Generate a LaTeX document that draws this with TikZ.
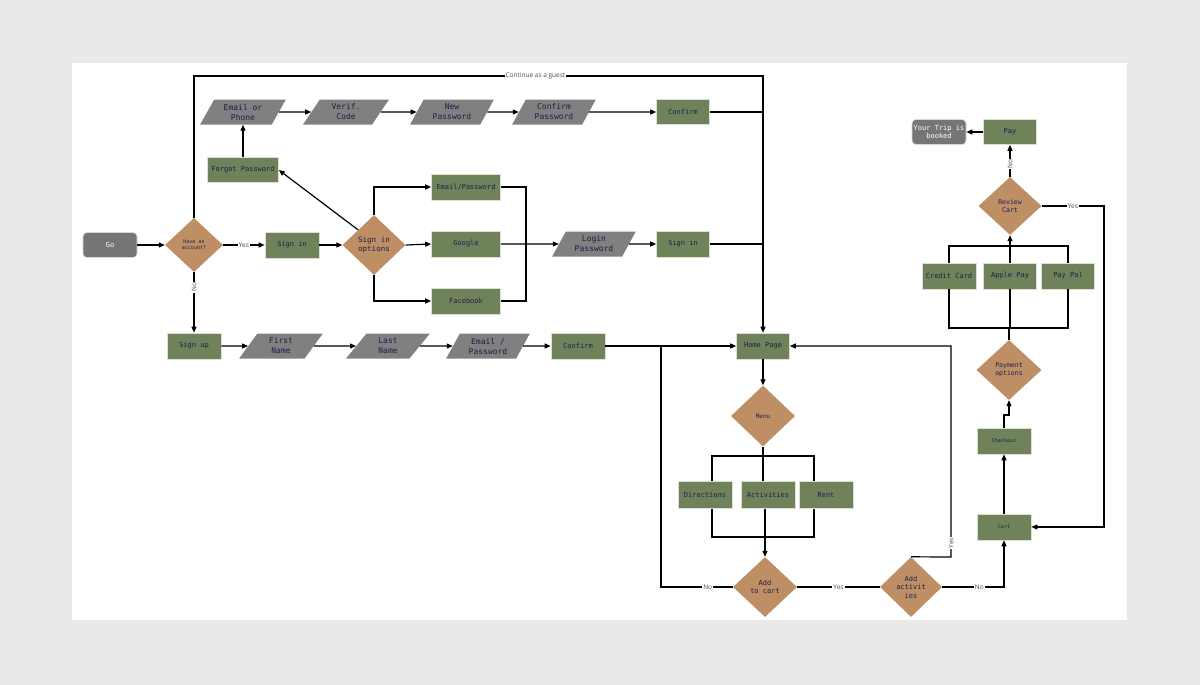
\documentclass[tikz,border=0pt]{standalone}
\usepackage{fontspec}
\setmainfont{DejaVu Sans}
\setmonofont{DejaVu Sans Mono}
\setsansfont{Open Sans}
\usetikzlibrary{shapes.geometric,arrows.meta}
\definecolor{grn}{HTML}{70825A}
\definecolor{dtan}{HTML}{BE8F64}
\definecolor{gry}{HTML}{808080}
\definecolor{termg}{HTML}{767676}
\definecolor{ink}{HTML}{1E1E4E}
\definecolor{bgc}{HTML}{E9E9E9}
\tikzset{
  box/.style={rectangle, fill=grn, draw=white!75!grn, line width=0.6pt,
    minimum width=54pt, minimum height=26pt, inner sep=1pt,
    font=\ttfamily\fontsize{7}{8}\selectfont, text=ink, align=center},
  dec/.style={diamond, fill=dtan, inner sep=0pt, minimum width=62pt, minimum height=60pt,
    font=\ttfamily\fontsize{7}{8.5}\selectfont, text=ink, align=center},
  para/.style={trapezium, trapezium left angle=60, trapezium right angle=120,
    trapezium stretches=true, fill=gry, minimum width=84pt, minimum height=25pt,
    inner sep=0pt, font=\ttfamily\fontsize{8}{10}\selectfont, text=ink, align=center},
  term/.style={rectangle, rounded corners=4pt, fill=termg, draw=white!70!termg, line width=0.6pt,
    minimum width=54pt, minimum height=25pt, inner sep=1pt,
    font=\ttfamily\fontsize{7}{8.5}\selectfont, text=white, align=center},
  arr/.style={-{Triangle[length=6pt,width=5pt]}, line width=1.2pt, black},
  ln/.style={line width=1.2pt, black},
  lbl/.style={fill=white, inner sep=1pt, font=\sffamily\fontsize{6.5}{7}\selectfont, text=black!70},
}
\begin{document}
\begin{tikzpicture}[x=1pt,y=-1pt]
\useasboundingbox (0,0) rectangle (1200,685);
\fill[bgc] (0,0) rectangle (1200,685);
\fill[white] (72,63) rectangle (1127,620);

% nodes
\node[term] (go) at (110,245) {Go};
\node[dec, minimum width=58pt, minimum height=54pt, font=\ttfamily\fontsize{5}{6}\selectfont] (have) at (194,245) {Have an\\account?};
\node[box] (signin1) at (292,245) {Sign in};
\node[dec, minimum width=63pt, minimum height=60pt, font=\ttfamily\fontsize{7.5}{9}\selectfont] (opts) at (374,245) {Sign in\\options};
\node[box, minimum width=69pt] (emailpw) at (466,187) {Email/Password};
\node[box, minimum width=69pt] (google) at (466,244) {Google};
\node[box, minimum width=69pt] (facebook) at (466,301) {Facebook};
\node[para] (login) at (594,244) {Login\\Password};
\node[box, minimum width=53pt] (signin2) at (683,244) {Sign in};
\node[box, minimum width=71pt, minimum height=25pt] (forgot) at (243,170) {Forgot Password};
\node[para, minimum width=86pt] (emph) at (243,112) {Email or\\Phone};
\node[para, minimum width=86pt] (verif) at (346,112) {Verif.\\Code};
\node[para] (newpw) at (452,112) {New\\Password};
\node[para] (confpw) at (554,112) {Confirm\\Password};
\node[box, minimum width=53pt, minimum height=25pt] (confirm1) at (683,112) {Confirm};
\node[box] (signup) at (194,346) {Sign up};
\node[para] (first) at (281,346) {First\\Name};
\node[para] (last) at (388,346) {Last\\Name};
\node[para] (emailpw2) at (488,346) {Email /\\Password};
\node[box] (confirm2) at (578,346) {Confirm};
\node[box, minimum width=53pt] (home) at (763,346) {Home Page};
\node[dec, minimum width=64pt, minimum height=61pt, font=\ttfamily\fontsize{6}{7}\selectfont] (menu) at (763,416) {Menu};
\node[box, minimum height=27pt] (dirs) at (705,495) {Directions};
\node[box, minimum height=27pt] (acts) at (768,495) {Activities};
\node[box, minimum height=27pt] (rent) at (826,495) {Rent};
\node[dec, minimum width=64pt, minimum height=60pt] (addcart) at (765,587) {Add\\to cart};
\node[dec, minimum width=62pt, minimum height=60pt] (addact) at (911,587) {Add\\activit\\ies};
\node[box, font=\ttfamily\fontsize{5}{6}\selectfont] (cart) at (1004,527) {Cart};
\node[box, font=\ttfamily\fontsize{5}{6}\selectfont] (checkout) at (1004,441) {Checkout};
\node[dec, minimum width=65pt, minimum height=60pt, font=\ttfamily\fontsize{6.5}{8}\selectfont] (payopt) at (1009,370) {Payment\\options};
\node[box] (credit) at (949,276) {Credit Card};
\node[box, minimum width=53pt] (apple) at (1010,276) {Apple Pay};
\node[box, minimum width=53pt] (paypal) at (1068,276) {Pay Pal};
\node[dec, minimum width=63pt, minimum height=58pt, font=\ttfamily\fontsize{6.5}{8}\selectfont] (review) at (1010,206) {Review\\Cart};
\node[box, minimum width=53pt, minimum height=25pt] (pay) at (1010,132) {Pay};
\node[term] (trip) at (939,132) {Your Trip is\\booked};

% helper coordinates
\coordinate (gtop) at (763,76);
\coordinate (jx) at (526,244);
\coordinate (nox) at (661,587);
\coordinate (yx) at (951,557);
\coordinate (busA) at (712,456);
\coordinate (busB) at (814,456);
\coordinate (busC) at (712,537);
\coordinate (busD) at (814,537);
\coordinate (pbusA) at (949,246);
\coordinate (pbusB) at (1068,246);
\coordinate (pbusC) at (949,328);
\coordinate (pbusD) at (1068,328);
\coordinate (revx) at (1104,206);
\coordinate (chk) at (1004,415);

% connectors
\draw[arr] (go) -- (have);
\draw[arr] (have) -- node[lbl] {Yes} (signin1);
\draw[arr] (have.north) |- node[lbl, pos=0.8] {Continue as a guest} (gtop) -- (home.north);
\draw[ln] (confirm1.east) -- (confirm1.east -| gtop);
\draw[ln] (signin2.east) -- (signin2.east -| gtop);
\draw[arr] (have.south) -- node[lbl, rotate=90, pos=0.25] {No} (signup.north);
\draw[arr] (signin1) -- (opts);
\draw[arr] (opts.north west) -- (forgot.east);
\draw[arr] (forgot.north) -- (emph.south -| forgot.north);
\draw[arr] (emph) -- (verif);
\draw[arr] (verif) -- (newpw);
\draw[arr] (newpw) -- (confpw);
\draw[arr] (confpw) -- (confirm1);
\draw[arr] (opts.north) |- (emailpw.west);
\draw[arr] (opts.east) -- (google.west);
\draw[arr] (opts.south) |- (facebook.west);
\draw[ln] (emailpw.east) -| (jx) |- (facebook.east);
\draw[arr] (google.east) -- (login);
\draw[arr] (login) -- (signin2);
\draw[arr] (signup) -- (first);
\draw[arr] (first) -- (last);
\draw[arr] (last) -- (emailpw2);
\draw[arr] (emailpw2) -- (confirm2);
\draw[arr] (confirm2) -- (home.west);
\draw[ln] (addcart.west) -- node[lbl, pos=0.35] {No} (nox) -- (nox |- home.west);
\draw[arr] (home.south) -- (menu.north);
\draw[ln] (menu.south) -- (menu.south |- acts.north);
\draw[ln] (dirs.north -| busA) -- (busA) -- (busB) -- (rent.north -| busB);
\draw[ln] (dirs.south -| busC) -- (busC) -- (busD) -- (rent.south -| busD);
\draw[arr] (addcart.north |- acts.south) -- (addcart.north);
\draw[ln] (addcart.east) -- node[lbl] {Yes} (addact.west);
\draw[arr] (addact.north) -- (yx) -- node[lbl, rotate=90, pos=0.065] {Yes} (yx |- home.east) -- (home.east);
\draw[arr] (addact.east) -| node[lbl, pos=0.3] {No} (cart.south);
\draw[arr] (cart.north) -- (checkout.south);
\draw[arr] (checkout.north) -- (chk) -| (payopt.south);
\draw[ln] (payopt.north) -- (payopt.north |- pbusC);
\draw[ln] (credit.south) -- (pbusC) -- (pbusD) -- (paypal.south);
\draw[ln] (apple.south) -- (apple.south |- pbusC);
\draw[ln] (credit.north) -- (pbusA) -- (pbusB) -- (paypal.north);
\draw[arr] (apple.north) -- (review.south);
\draw[arr] (review.north) -- node[lbl, rotate=90, pos=0.4] {No} (pay.south);
\draw[arr] (pay.west) -- (trip.east);
\draw[arr] (review.east) -- node[lbl, pos=0.5] {Yes} (revx) |- (cart.east);
\end{tikzpicture}
\end{document}
